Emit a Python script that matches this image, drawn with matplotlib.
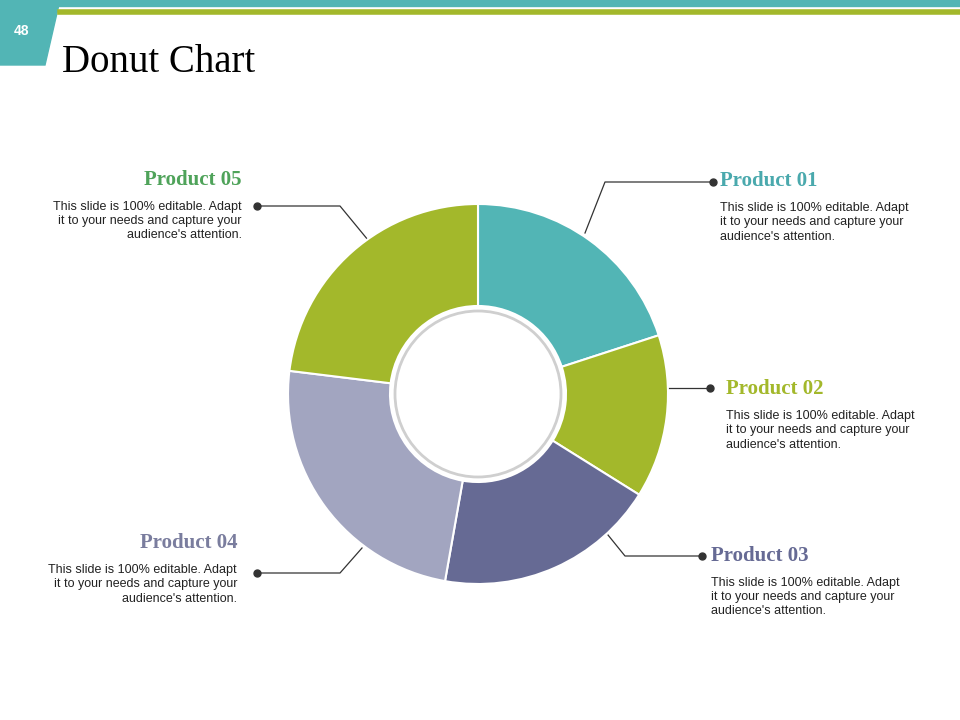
import matplotlib
matplotlib.use("Agg")
import matplotlib.pyplot as plt
from matplotlib.patches import Polygon, Circle

labels = ["20%", "08%", "15%", "26%", "18%"]
spans = [72, 50, 68, 87, 83]  # wedge sizes as drawn (degrees)
colors = ["#52b5b5", "#a3b82b", "#666a94", "#a2a5c0", "#a3b82b"]
products = ["Product 01", "Product 02", "Product 03", "Product 04", "Product 05"]
pcolors = ["#4aa9ad", "#a3b82b", "#666a94", "#7a7d9e", "#4fa35a"]
body = "This slide is 100% editable. Adapt\nit to your needs and capture your\naudience's attention."

fig = plt.figure(figsize=(9.6, 7.2), dpi=100)
bg = fig.add_axes([0, 0, 1, 1])
bg.set_xlim(0, 960); bg.set_ylim(720, 0); bg.axis("off")

# header decorations
bg.add_patch(Polygon([[0, 0], [960, 0], [960, 6], [0, 6]], color="#52b5b5"))
bg.plot([60, 960], [12, 12], color="#a3b82b", lw=4)
bg.add_patch(Polygon([[0, 0], [60, 0], [45, 65], [0, 65]], color="#52b5b5"))
bg.text(22, 31, "48", color="white", fontsize=10, fontweight="bold", ha="center", va="center", family="Liberation Sans")
bg.text(62, 62, "Donut Chart", fontsize=28, family="Liberation Serif", va="center", ha="left")

# donut
cx, cy, R, r = 478, 394, 190, 88
pax = fig.add_axes([(cx - R) / 960, (720 - cy - R) / 720, 2 * R / 960, 2 * R / 720])
pax.pie(spans, colors=colors, startangle=90, counterclock=False, radius=1,
        wedgeprops=dict(width=(R - r) / R, edgecolor="white", linewidth=1.5))
pax.add_patch(Circle((0, 0), 83 / R, fill=False, edgecolor="#cfcfcf", lw=2))
pax.set_xlim(-1, 1); pax.set_ylim(-1, 1); pax.axis("off")

lpos = [(570, 293), (622, 417), (533, 526), (366, 491), (388, 293)]
for (x, y), t in zip(lpos, labels):
    bg.text(x, y, t, fontsize=26, family="Liberation Serif", ha="center", va="center", zorder=5)

# callouts
lines = [
    [(713, 182), (605, 182), (585, 233)],
    [(710, 388), (668, 388)],
    [(702, 556), (625, 556), (608, 535)],
    [(257, 573), (340, 573), (362, 548)],
    [(257, 206), (340, 206), (368, 240)],
]
heads = [(720, 181, "left"), (726, 389, "left"), (711, 556, "left"), (237, 543, "right"), (242, 180, "right")]
for pts, (hx, hy, ha), name, pc in zip(lines, heads, products, pcolors):
    xs, ys = zip(*pts)
    bg.plot(xs, ys, color="#333333", lw=0.9)
    bg.plot(xs[0], ys[0], "o", color="#333333", ms=5)
    bg.text(hx, hy, name, color=pc, fontsize=15, fontweight="bold", family="Liberation Serif", ha=ha, va="center")
    bg.text(hx, hy + 21, body, fontsize=9, family="Liberation Sans", ha=ha, va="top", linespacing=1.25, color="#222222")

fig.savefig("out.png", dpi=100)
